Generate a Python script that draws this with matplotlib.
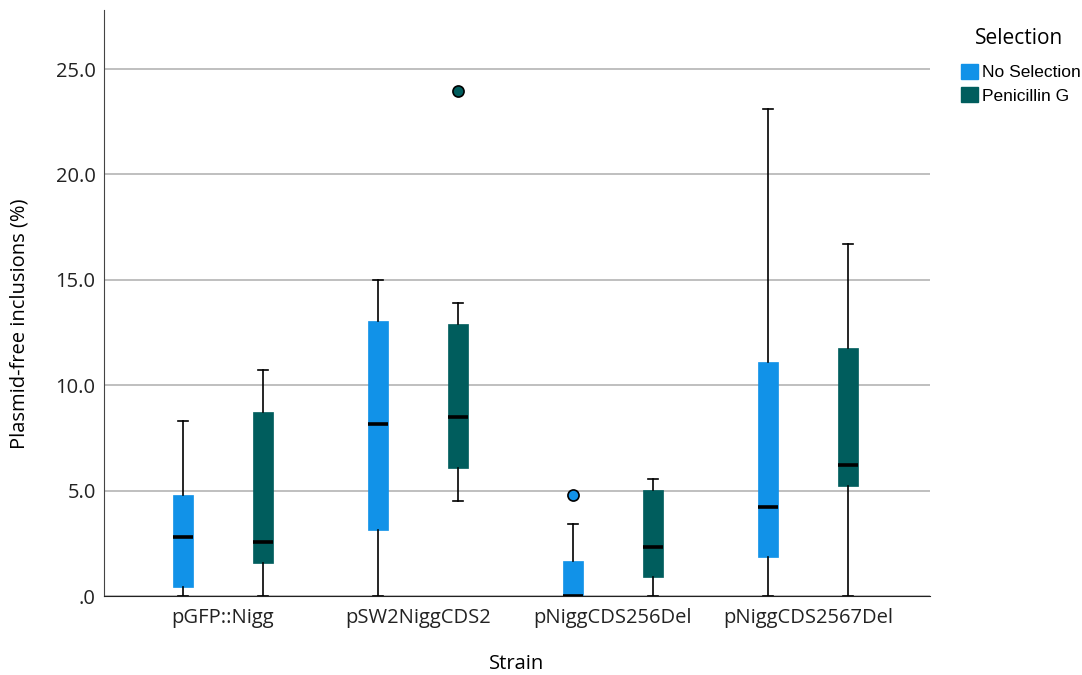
import numpy as np
import matplotlib.pyplot as plt
from matplotlib.patches import Patch

strains = ['pGFP::Nigg', 'pSW2NiggCDS2', 'pNiggCDS256Del', 'pNiggCDS2567Del']
groups = ['No Selection', 'Penicillin G']
colors = ['#1192e8', '#005d5d']

# five-number summaries: whislo, q1, med, q3, whishi
no_sel = [
    [0.0, 0.43, 2.8, 4.78, 8.3],
    [0.0, 3.15, 8.16, 13.05, 15.0],
    [0.0, 0.0, 0.0, 1.66, 3.42],
    [0.0, 1.85, 4.22, 11.12, 23.1],
]
pen_g = [
    [0.0, 1.57, 2.56, 8.73, 10.72],
    [4.5, 6.07, 8.49, 12.9, 13.9],
    [0.0, 0.9, 2.32, 5.03, 5.55],
    [0.0, 5.22, 6.21, 11.76, 16.7],
]
no_sel_out = [[], [], [4.79], []]
pen_g_out = [[], [23.96], [], []]


def make_stats(rows, outliers):
    stats = []
    for r, o in zip(rows, outliers):
        stats.append(dict(whislo=r[0], q1=r[1], med=r[2], q3=r[3], whishi=r[4], fliers=o))
    return stats


def main():
    plt.rcParams['font.family'] = ['Open Sans', 'DejaVu Sans']
    fig = plt.figure(figsize=(10.82, 6.75), dpi=100)
    ax = fig.add_axes([104 / 1082, 1 - 596 / 675, 826 / 1082, 586 / 675])

    x = np.arange(1, len(strains) + 1)
    off = 0.205
    for data, outs, col, d in [(no_sel, no_sel_out, colors[0], -off), (pen_g, pen_g_out, colors[1], off)]:
        ax.bxp(make_stats(data, outs), positions=x + d, widths=0.1, patch_artist=True,
               boxprops=dict(facecolor=col, edgecolor=col, linewidth=0.5),
               medianprops=dict(color='black', linewidth=2.6, solid_capstyle='butt'),
               whiskerprops=dict(color='black', linewidth=1.2),
               capprops=dict(color='black', linewidth=1.2),
               capwidths=0.055,
               flierprops=dict(marker='o', markerfacecolor=col, markeredgecolor='black',
                               markersize=8, markeredgewidth=1.2),
               zorder=3)

    ax.set_xlim(0.39, 4.626)
    ax.set_ylim(0, 27.8)
    ax.set_yticks([0, 5, 10, 15, 20, 25])
    ax.set_yticklabels(['.0', '5.0', '10.0', '15.0', '20.0', '25.0'])
    ax.set_xticks(x)
    ax.set_xticklabels(strains)
    ax.tick_params(axis='both', length=0, labelsize=14.5, colors='#222222')
    ax.tick_params(axis='y', pad=6)
    ax.tick_params(axis='x', pad=9)
    ax.yaxis.grid(True, color='#b4b4b4', linewidth=1.2)
    ax.set_axisbelow(True)
    for s in ['top', 'right']:
        ax.spines[s].set_visible(False)
    ax.spines['left'].set_color('#444444')
    ax.spines['bottom'].set_color('#222222')
    ax.set_ylabel('Plasmid-free inclusions (%)', fontsize=14.5, va='center')
    ax.yaxis.set_label_coords(-84 / 826, 0.5 - 21 / 586)
    ax.set_xlabel('Strain', fontsize=14.5, va='center')
    ax.xaxis.set_label_coords(0.5, -68 / 586)

    # legend title drawn on its own so the gap above the entries matches
    fig.text(1019 / 1082, 1 - 38 / 675, 'Selection', ha='center', va='center', fontsize=15)
    handles = [Patch(facecolor=c, edgecolor=c) for c in colors]
    fig.legend(handles, groups, loc='upper left', bbox_to_anchor=(945 / 1082, 1 - 48 / 675),
               frameon=False, handlelength=1.0, handleheight=1.0,
               handletextpad=0.25, labelspacing=0.38,
               prop={'family': ['Liberation Sans'], 'size': 12.5})

    fig.savefig('out.png', dpi=100)


if __name__ == "__main__":
    main()
